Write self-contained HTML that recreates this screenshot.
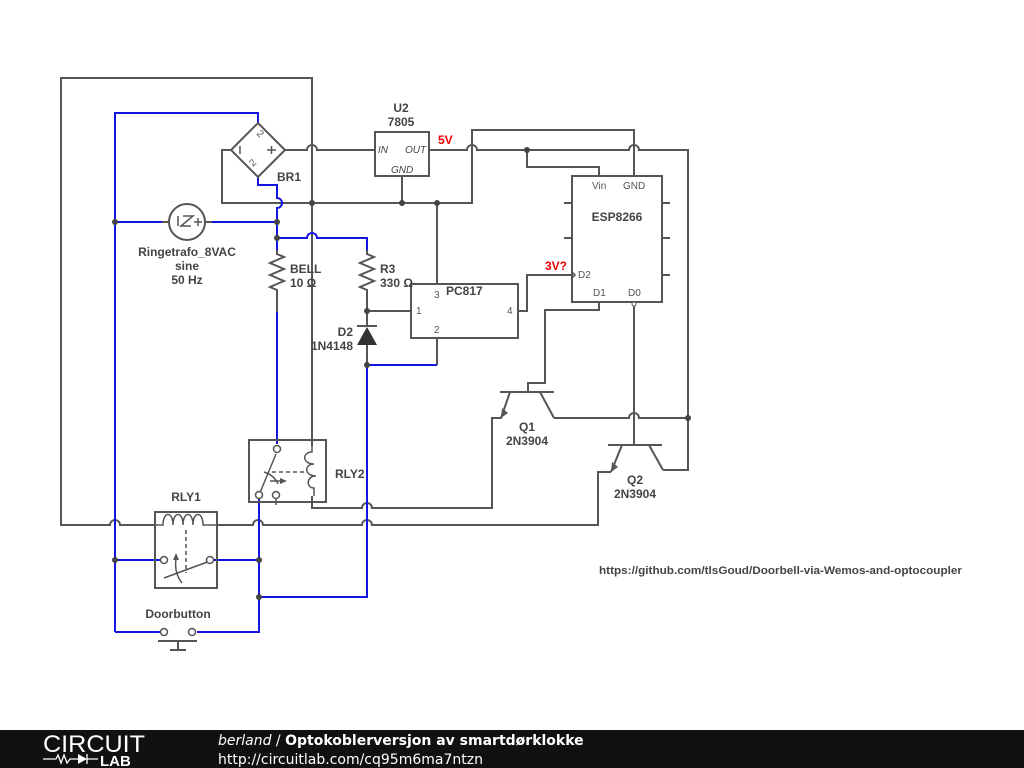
<!DOCTYPE html>
<html><head><meta charset="utf-8"><style>
html,body{margin:0;padding:0;background:#fff;width:1024px;height:768px;overflow:hidden}
svg{display:block}
text{font-family:"Liberation Sans",sans-serif;font-weight:bold;fill:#444;font-size:12px}
text.n{font-weight:normal;font-size:10px;fill:#555}
text.i{font-weight:normal;font-size:10px;font-style:italic;fill:#444}
text.r{fill:#e00}
text.u{font-size:11.4px}
.g{stroke:#555;stroke-width:2;fill:none}
.b{stroke:#1515e0;stroke-width:2;fill:none}
.t{stroke:#555;stroke-width:1.5;fill:none}
</style></head><body>
<svg width="1024" height="768" viewBox="0 0 1024 768" xmlns="http://www.w3.org/2000/svg">
<path class="g" d="M312,446 V78 H61 V525 H110 a5 5 0 0 1 10 0 H155"/>
<path class="g" d="M217,525 H253 a5 5 0 0 1 10 0 H362 a5 5 0 0 1 10 0 H598 V472 H611"/>
<path class="g" d="M285,150 H307 a5 5 0 0 1 10 0 H375"/>
<path class="g" d="M231,150 H222 V203 H472 V130 H634 V176"/>
<path class="g" d="M429,150 H467 a5 5 0 0 1 10 0 H629 a5 5 0 0 1 10 0 H688 V470 H663"/>
<path class="g" d="M527,150 V167 H599 V176"/>
<path class="g" d="M402,176 V203 M437,203 V284"/>
<path class="g" d="M518,311 H527 V275 H572"/>
<path class="g" d="M599,302 V310 H545 V383 H528 V392"/>
<path class="g" d="M634,305 V445"/>
<path class="g" d="M554,418 H629 a5 5 0 0 1 10 0 H688"/>
<path class="g" d="M500,392 H554 M510,392 L501,418 H492 V508 H372 a5 5 0 0 0 -10 0 H312 V496"/>
<path class="g" d="M540,392 L554,418"/>
<path class="g" d="M608,445 H662 M622,445 L611,472 M649,445 L663,470"/>
<path d="M501,418 l1,-10 l6,5 z M611,472 l1,-10 l6,5 z" fill="#555"/>
<path class="g" d="M367,294 V325 M367,311 H411 M367,345 V365"/>
<path class="g" d="M437,338 V365"/>
<path class="g" d="M277,294 V312"/>
<path class="g" d="M367,250 l0,4 l7,3 l-14,6 l14,6 l-14,6 l14,6 l-14,6 l7,3 v4"/>
<path class="g" d="M277,250 l0,4 l7,3 l-14,6 l14,6 l-14,6 l14,6 l-14,6 l7,3 v4"/>
<path d="M357,345 L377,345 L367,327 Z" fill="#333"/>
<path class="g" d="M357,326 H377"/>
<path class="b" d="M115,632 V113 H258 V123"/>
<path class="b" d="M258,177 V185 H277 V198 a5 5 0 0 1 0 10 V250"/>
<path class="b" d="M115,222 H162 M212,222 H277"/>
<path class="b" d="M277,238 H307 a5 5 0 0 1 10 0 H367 V250"/>
<path class="b" d="M277,312 V444"/>
<path class="b" d="M259,499 V632 H197 M160,632 H115"/>
<path class="b" d="M367,365 H437 M367,365 V597 H259"/>
<path class="b" d="M115,560 H160 M214,560 H259"/>
<circle cx="187" cy="222" r="18" class="g"/>
<path class="g" d="M169,222 H162 M205,222 H212"/>
<path class="t" d="M178,216 v10 M183,216 l10,0 l-12,10 l10,0 M194,222 h8 M198,218 v8"/>
<path class="g" d="M258,123 L285,150 L258,177 L231,150 Z"/>
<path class="t" d="M240,146 v8 M267,150 h9 M271.5,146 v8"/>
<text class="n" x="256" y="134" transform="rotate(45 256 134)">2</text>
<text class="n" x="253" y="167" transform="rotate(-45 253 167)">2</text>
<rect x="375" y="132" width="54" height="44" class="g"/>
<text class="i" x="378" y="153">IN</text>
<text class="i" x="405" y="153">OUT</text>
<text class="i" x="391" y="173">GND</text>
<rect x="411" y="284" width="107" height="54" class="g"/>
<text class="n" x="434" y="298">3</text>
<text class="n" x="416" y="314">1</text>
<text class="n" x="434" y="333">2</text>
<text class="n" x="507" y="314">4</text>
<rect x="572" y="176" width="90" height="126" class="g"/>
<path class="g" d="M564,203 H572 M564,238 H572 M662,203 H670 M662,238 H670 M662,275 H670"/>
<path class="t" d="M572,272 l3,3 l-3,3"/>
<circle cx="634" cy="304" r="2" fill="#fff" stroke="#555"/>
<text class="n" x="592" y="189">Vin</text>
<text class="n" x="623" y="189">GND</text>
<text class="n" x="578" y="278">D2</text>
<text class="n" x="593" y="296">D1</text>
<text class="n" x="628" y="296">D0</text>
<rect x="249" y="440" width="77" height="62" class="g"/>
<path class="t" d="M259,495 L276,454 M264,472 q10,3 14,12 M270,481 l10,0"/>
<path class="t" stroke-dasharray="4,3" d="M272,472 H304"/>
<path d="M280,478 l7,3 l-7,3z" fill="#555"/>
<path class="t" d="M312,446 V452 c-10,0 -10,12 2,12 c-10,0 -10,12 2,12 c-10,0 -10,12 -2,12 V496"/>
<circle cx="277" cy="449" r="3.5" fill="#fff" stroke="#555" stroke-width="1.5"/>
<circle cx="259" cy="495" r="3.5" fill="#fff" stroke="#555" stroke-width="1.5"/>
<circle cx="276" cy="495" r="3.5" fill="#fff" stroke="#555" stroke-width="1.5"/>
<path class="t" d="M276,499 V505"/>
<rect x="155" y="512" width="62" height="76" class="g"/>
<path class="t" d="M155,525 H163 c0,-14 10,-14 10,0 c0,-14 10,-14 10,0 c0,-14 10,-14 10,0 c0,-14 10,-14 10,0 H217"/>
<path class="t" stroke-dasharray="4,3" d="M186,530 V573"/>
<path class="t" d="M164,578 L210,561 M182,583 q-8,-10 -6,-24"/>
<path d="M176,553 l-3,7 l6,0z" fill="#555"/>
<circle cx="164" cy="560" r="3.5" fill="#fff" stroke="#555" stroke-width="1.5"/>
<circle cx="210" cy="560" r="3.5" fill="#fff" stroke="#555" stroke-width="1.5"/>
<circle cx="164" cy="632" r="3.5" fill="#fff" stroke="#555" stroke-width="1.5"/>
<circle cx="192" cy="632" r="3.5" fill="#fff" stroke="#555" stroke-width="1.5"/>
<path class="g" d="M158,641 H197 M178,641 V650 M170,650 H186"/>
<g fill="#444">
<circle cx="312" cy="203" r="3"/><circle cx="402" cy="203" r="3"/><circle cx="437" cy="203" r="3"/>
<circle cx="527" cy="150" r="3"/><circle cx="115" cy="222" r="3"/><circle cx="277" cy="222" r="3"/>
<circle cx="277" cy="238" r="3"/><circle cx="367" cy="311" r="3"/><circle cx="367" cy="365" r="3"/>
<circle cx="688" cy="418" r="3"/><circle cx="115" cy="560" r="3"/><circle cx="259" cy="560" r="3"/>
<circle cx="259" cy="597" r="3"/>
</g>
<g text-anchor="middle">
<text x="401" y="112">U2</text><text x="401" y="126">7805</text>
<text x="187" y="256">Ringetrafo_8VAC</text><text x="187" y="270">sine</text><text x="187" y="284">50 Hz</text>
<text x="617" y="221">ESP8266</text>
<text x="527" y="431">Q1</text><text x="527" y="445">2N3904</text>
<text x="635" y="484">Q2</text><text x="635" y="498">2N3904</text>
<text x="186" y="501">RLY1</text><text x="178" y="618">Doorbutton</text>
</g>
<text class="r" x="438" y="144">5V</text>
<text class="r" x="545" y="270">3V?</text>
<text x="277" y="181">BR1</text>
<text x="290" y="273">BELL</text><text x="290" y="287">10 Ω</text>
<text x="380" y="273">R3</text><text x="380" y="287">330 Ω</text>
<text x="353" y="336" text-anchor="end">D2</text><text x="353" y="350" text-anchor="end">1N4148</text>
<text x="446" y="295">PC817</text>
<text x="335" y="478">RLY2</text>
<text class="u" x="599" y="574" textLength="363" lengthAdjust="spacingAndGlyphs">https://github.com/tlsGoud/Doorbell-via-Wemos-and-optocoupler</text>
<rect x="0" y="730" width="1024" height="38" fill="#111"/>
<text x="43" y="752" textLength="102" lengthAdjust="spacingAndGlyphs" style="font-size:24px;font-weight:normal;fill:#fff">CIRCUIT</text>
<path d="M43,759 H56 l2,-4 l3,8 l3,-8 l3,8 l3,-4 H78 M87,754 v10 M87,759 H98" stroke="#fff" stroke-width="1.3" fill="none"/>
<path d="M78,754 l9,5 l-9,5z" fill="#fff"/>
<text x="100" y="766" style="font-size:15px;fill:#fff">LAB</text>
<text x="218" y="745" style="font-size:14px;font-weight:normal;fill:#fff;font-family:'DejaVu Sans',sans-serif"><tspan style="font-style:italic">berland</tspan> / <tspan style="font-weight:bold">Optokoblerversjon av smartdørklokke</tspan></text>
<text x="218" y="764" style="font-size:14px;font-weight:normal;fill:#fff;font-family:'DejaVu Sans',sans-serif">http://circuitlab.com/cq95m6ma7ntzn</text>
</svg>
</body></html>
